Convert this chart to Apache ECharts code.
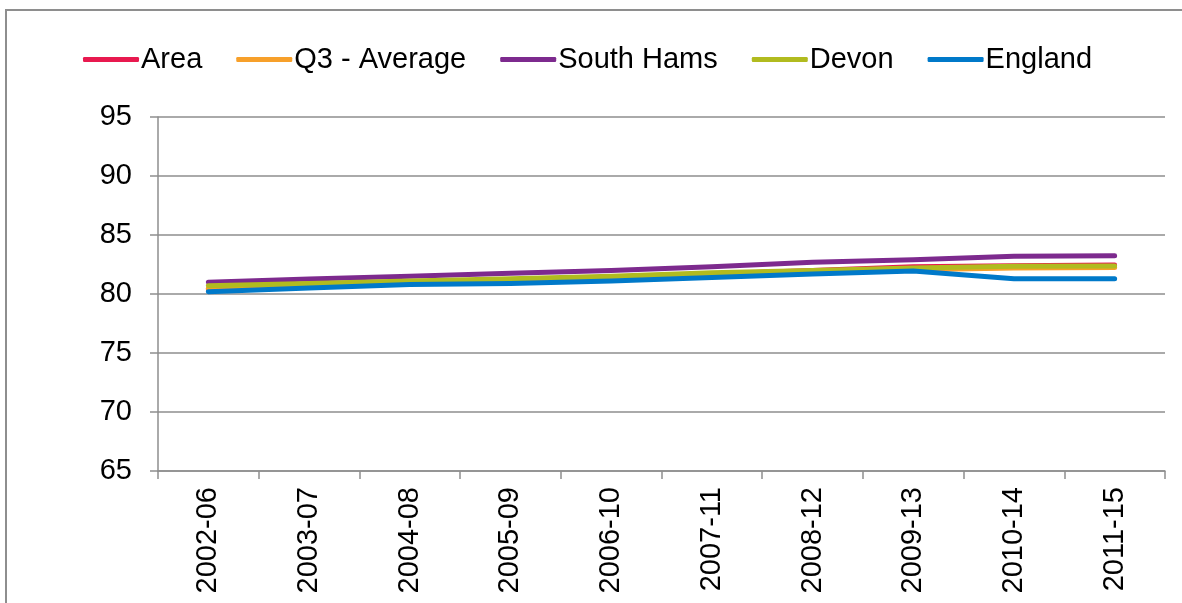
<!DOCTYPE html>
<html>
<head>
<meta charset="utf-8">
<script src="https://cdn.jsdelivr.net/npm/echarts@6/dist/echarts.min.js"></script>
<style>
  html, body { margin: 0; padding: 0; background: #fff; }
  #chart { position: absolute; left: 0; top: 0; width: 1182px; height: 603px; }
  #frame { position: absolute; left: 5px; top: 9px; width: 1300px; height: 700px;
           border: 2px solid #8e8e8e; pointer-events: none; }
</style>
</head>
<body>
<div id="chart"></div>
<div id="frame"></div>
<script>
const categories = ['2002-06','2003-07','2004-08','2005-09','2006-10','2007-11','2008-12','2009-13','2010-14','2011-15'];
const seriesNames = ['Area','Q3 - Average','South Hams','Devon','England'];
const area      = [80.4, 80.7, 80.9, 81.1, 81.4, 81.7, 82.0, 82.3, 82.4, 82.45];
const q3Average = [80.45, 80.7, 80.9, 81.1, 81.35, 81.6, 81.85, 82.05, 82.2, 82.25];
const southHams = [81.0, 81.27, 81.5, 81.75, 82.0, 82.3, 82.7, 82.9, 83.2, 83.25];
const devon     = [80.7, 80.9, 81.1, 81.3, 81.5, 81.8, 82.0, 82.2, 82.35, 82.37];
const england   = [80.2, 80.5, 80.8, 80.9, 81.1, 81.4, 81.7, 81.95, 81.3, 81.3];
const colors = ['#E8194F', '#F7A02A', '#7D2A8E', '#B1BB1F', '#0079C9'];
const yMin = 65, yMax = 95, yStep = 5;

const dataSets = [area, q3Average, southHams, devon, england];
const font = '"Liberation Sans", Arial, sans-serif';
const gridColor = '#8e8e8e';

const chart = echarts.init(document.getElementById('chart'), null, { renderer: 'canvas' });
chart.setOption({
  animation: false,
  color: colors,
  textStyle: { fontFamily: font },
  legend: {
    left: 78, top: 40,
    icon: 'roundRect',
    itemWidth: 56, itemHeight: 5, itemGap: 34,
    textStyle: { fontSize: 29, color: '#000', fontFamily: font, padding: [0, 0, 0, -3] },
    data: seriesNames
  },
  grid: { left: 158, right: 17, top: 117, bottom: 132 },
  xAxis: {
    type: 'category',
    data: categories,
    boundaryGap: true,
    axisLine: { show: true, lineStyle: { color: gridColor, width: 1.5 } },
    axisTick: { show: true, length: 8, alignWithLabel: false, lineStyle: { color: gridColor, width: 1.5 } },
    axisLabel: { rotate: 90, margin: 16, fontSize: 29, color: '#000', fontFamily: font, interval: 0 },
    splitLine: { show: false }
  },
  yAxis: {
    type: 'value',
    min: yMin, max: yMax, interval: yStep,
    axisLine: { show: true, lineStyle: { color: gridColor, width: 1.5 } },
    axisTick: { show: true, length: 8, lineStyle: { color: gridColor, width: 1.5 } },
    axisLabel: { margin: 26, fontSize: 29, color: '#000', fontFamily: font },
    splitLine: { show: true, lineStyle: { color: gridColor, width: 1.5 } }
  },
  series: seriesNames.map((name, i) => ({
    name: name,
    type: 'line',
    data: dataSets[i],
    symbol: 'none',
    lineStyle: { width: 5, color: colors[i], cap: 'round', join: 'round' },
    itemStyle: { color: colors[i] }
  }))
});
</script>
</body>
</html>
